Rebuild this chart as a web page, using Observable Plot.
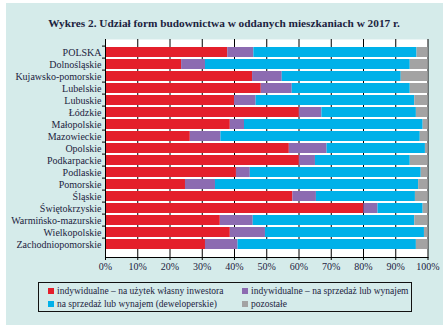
<!DOCTYPE html>
<html>
<head>
<meta charset="utf-8">
<script src="https://cdn.jsdelivr.net/npm/d3@7"></script>
<script src="https://cdn.jsdelivr.net/npm/@observablehq/plot@0.6"></script>
<style>
  html, body { margin: 0; padding: 0; background: #ffffff; }
  #wrap { position: relative; width: 448px; height: 331px; overflow: hidden; font-family: "Liberation Serif", "DejaVu Serif", serif; color: #1c2340; }
  #panel { position: absolute; left: 6px; top: 3px; width: 437px; height: 322px; background: #d5ebea; }
  #title { position: absolute; left: 0; width: 448px; top: 17px; text-align: center; font-weight: bold; font-size: 11.3px; color: #1c2340; }
  #chart { position: absolute; left: 0; top: 30px; }
  #legend { position: absolute; left: 38px; top: 282px; width: 374px; height: 30px; border: 1px solid #111; box-sizing: border-box; font-size: 9.5px; }
  .li { position: absolute; white-space: nowrap; line-height: 12px; }
  .sw { display: inline-block; width: 6px; height: 6px; margin-right: 3px; vertical-align: 0px; }
</style>
</head>
<body>
<div id="wrap">
  <div id="panel"></div>
  <div id="title">Wykres 2. Udział form budownictwa w oddanych mieszkaniach w 2017 r.</div>
  <div id="chart"></div>
  <div id="legend"></div>
</div>
<script>
const categories = ["POLSKA","Dolnośląskie","Kujawsko-pomorskie","Lubelskie","Lubuskie","Łódzkie","Małopolskie","Mazowieckie","Opolskie","Podkarpackie","Podlaskie","Pomorskie","Śląskie","Świętokrzyskie","Warmińsko-mazurskie","Wielkopolskie","Zachodniopomorskie"];
const seriesNames = ["indywidualne – na użytek własny inwestora","indywidualne – na sprzedaż lub wynajem","na sprzedaż lub wynajem (deweloperskie)","pozostałe"];
const seriesColors = ["#e41f2b","#8c6bb1","#00b1e9","#a3a3a3"];
const ownUse   = [37.9, 23.6, 45.6, 48.3, 40.0, 60.1, 38.7, 26.3, 57.0, 60.1, 40.6, 24.8, 58.1, 80.1, 35.6, 38.7, 31.0];
const indivSale= [ 8.1,  7.4,  9.2,  9.6,  6.7,  7.0,  4.4,  9.5, 11.7,  5.0,  4.3,  9.3,  7.3,  4.4, 10.2, 10.9, 10.1];
const developer= [50.6, 63.5, 36.9, 36.6, 49.2, 29.3, 55.4, 61.8, 30.5, 29.4, 53.0, 63.0, 30.7, 14.0, 50.1, 49.3, 55.3];
const other    = [ 3.4,  5.5,  8.3,  5.5,  4.1,  3.6,  1.5,  2.4,  0.8,  5.5,  2.1,  2.9,  3.9,  1.5,  4.1,  1.1,  3.6];
const xTicks = [0,10,20,30,40,50,60,70,80,90,100];

const seriesValues = [ownUse, indivSale, developer, other];
const data = [];
categories.forEach((c, i) => {
  seriesNames.forEach((s, j) => data.push({region: c, series: s, value: seriesValues[j][i]}));
});

const plot = Plot.plot({
  width: 448,
  height: 250,
  marginTop: 9,
  marginBottom: 23,
  marginLeft: 105,
  marginRight: 20.5,
  style: {background: "transparent", fontFamily: "Liberation Serif, DejaVu Serif, serif", fontSize: "10px", color: "#1c2340"},
  x: {domain: [0, 100], ticks: xTicks},
  y: {domain: categories, padding: 0.16, align: 0.5},
  color: {domain: seriesNames, range: seriesColors},
  marks: [
    Plot.frame({fill: "white", stroke: null}),
    Plot.ruleX(xTicks.slice(1), {stroke: "#000", strokeWidth: 1}),
    Plot.barX(data, Plot.stackX({x: "value", y: "region", fill: "series", order: seriesNames, inset: 0})),
    Plot.axisX({ticks: xTicks, tickSize: 3, tickPadding: 2, tickFormat: d => d + "%", label: null, fill: "#1c2340", stroke: "#000"}),
    Plot.axisY({tickSize: 0, tickPadding: 4, label: null, fill: "#1c2340"}),
    Plot.axisY({tickSize: 3, tickFormat: () => "", dy: -6.4, label: null, stroke: "#000"}),
    Plot.frame({anchor: "bottom", stroke: "#000"}),
    Plot.frame({anchor: "left", stroke: "#000"})
  ]
});
document.getElementById("chart").appendChild(plot);

const legend = document.getElementById("legend");
const pos = [[9, 2], [203, 2], [9, 15], [203, 15]];
const legendOrder = [0, 1, 2, 3];
legendOrder.forEach((j, k) => {
  const d = document.createElement("div");
  d.className = "li";
  d.style.left = pos[k][0] + "px";
  d.style.top = pos[k][1] + "px";
  const sw = document.createElement("span");
  sw.className = "sw";
  sw.style.background = seriesColors[j];
  d.appendChild(sw);
  d.appendChild(document.createTextNode(seriesNames[j]));
  legend.appendChild(d);
});
</script>
</body>
</html>
